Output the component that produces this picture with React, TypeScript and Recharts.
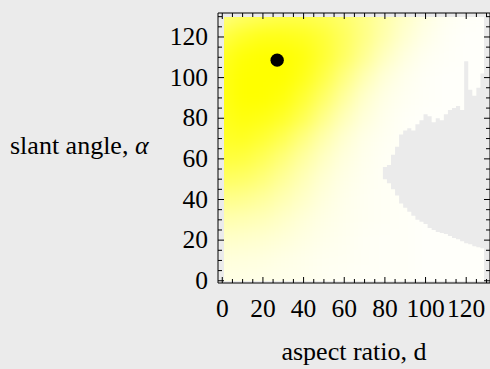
import React from "react";
import { ComposedChart, Scatter, Area, XAxis, YAxis } from "recharts";

const FONT = '"Liberation Serif", "Times New Roman", serif';
const BG = "#ebebeb";

// axis ticks
const X_MAJOR = [0, 20, 40, 60, 80, 100, 120];
const Y_MAJOR = [0, 20, 40, 60, 80, 100, 120];
const X_TICKS = [0, 5, 10, 15, 20, 25, 30, 35, 40, 45, 50, 55, 60, 65, 70, 75, 80, 85, 90, 95, 100, 105, 110, 115, 120, 125, 130];
const Y_TICKS = [0, 5, 10, 15, 20, 25, 30, 35, 40, 45, 50, 55, 60, 65, 70, 75, 80, 85, 90, 95, 100, 105, 110, 115, 120, 125, 130];

// frame and image extents (data units)
const FRAME_X = [-2.1, 131.7];
const FRAME_Y = [-1.1, 131.8];
const IMAGE_X = [0.85, 128.75];
const IMAGE_Y = [-0.1, 129.8];

// density samples, rows from top (130) to bottom (0)
const GRID_X = [0, 10, 20, 30, 40, 50, 60, 70, 80, 90, 100, 110, 120, 130];
const GRID_Y = [130, 120, 110, 100, 90, 80, 70, 60, 50, 40, 30, 20, 10, 0];
const YELLOW = [
  [0.5, 0.6, 0.66, 0.7, 0.7, 0.66, 0.58, 0.47, 0.34, 0.22, 0.12, 0.06, 0.03, 0.02],
  [0.72, 0.84, 0.9, 0.9, 0.87, 0.78, 0.64, 0.48, 0.32, 0.18, 0.09, 0.04, 0.02, 0.02],
  [0.86, 0.97, 1, 1, 0.94, 0.8, 0.62, 0.42, 0.24, 0.12, 0.05, 0.03, 0.02, 0.02],
  [0.9, 1, 1, 1, 0.9, 0.72, 0.5, 0.3, 0.15, 0.07, 0.03, 0.02, 0.02, 0.02],
  [0.9, 1, 1, 0.95, 0.8, 0.6, 0.38, 0.2, 0.1, 0.05, 0.03, 0.02, 0.02, 0.02],
  [0.88, 0.95, 0.92, 0.84, 0.68, 0.46, 0.27, 0.14, 0.07, 0.03, 0.02, 0.02, 0.02, 0.02],
  [0.84, 0.87, 0.8, 0.68, 0.5, 0.32, 0.18, 0.09, 0.05, 0.03, 0.02, 0.02, 0.02, 0.02],
  [0.76, 0.75, 0.66, 0.52, 0.37, 0.23, 0.13, 0.07, 0.04, 0.03, 0.02, 0.02, 0.02, 0.02],
  [0.62, 0.6, 0.52, 0.4, 0.28, 0.17, 0.1, 0.06, 0.04, 0.03, 0.02, 0.02, 0.02, 0.02],
  [0.46, 0.44, 0.38, 0.3, 0.21, 0.13, 0.08, 0.05, 0.04, 0.03, 0.02, 0.02, 0.02, 0.02],
  [0.32, 0.3, 0.27, 0.21, 0.15, 0.1, 0.07, 0.05, 0.04, 0.03, 0.02, 0.02, 0.02, 0.02],
  [0.21, 0.2, 0.18, 0.15, 0.11, 0.08, 0.06, 0.04, 0.03, 0.03, 0.02, 0.02, 0.02, 0.02],
  [0.14, 0.13, 0.12, 0.1, 0.08, 0.06, 0.05, 0.04, 0.03, 0.03, 0.02, 0.02, 0.02, 0.02],
  [0.1, 0.1, 0.09, 0.08, 0.07, 0.05, 0.04, 0.03, 0.03, 0.03, 0.02, 0.02, 0.02, 0.02],
];

// region without data (background shows through)
const HOLE_X = [79, 81, 83, 85, 87, 89, 91, 93, 95, 97, 99, 101, 103, 105, 107, 109, 111, 113, 115, 117, 119, 121, 123, 125, 127, 129];
const HOLE_LO = [50, 48, 45, 42, 38, 36, 34, 32, 30, 29, 28, 26, 25, 24, 23.5, 23, 22, 21, 20.5, 19.5, 18.5, 18, 17, 16.5, 16, 15];
const HOLE_HI = [56, 57, 62, 66, 72, 74, 75, 74, 77, 79, 82, 81, 78, 80, 79, 82, 84, 85, 86, 84, 108, 94, 91, 95, 102, 100];

const OPTIMUM = [{ x: 27, y: 108.6 }];

const heatCells = GRID_Y.flatMap((y, i) => GRID_X.map((x, j) => ({ x, y, v: YELLOW[i][j] })));
const holeData = HOLE_X.map((x, i) => ({ x, range: [HOLE_LO[i], HOLE_HI[i]] }));

const IMG_W = 260;
const IMG_H = 264;
const CELL_W = (10 * IMG_W) / (IMAGE_X[1] - IMAGE_X[0]) + 1;
const CELL_H = (10 * IMG_H) / (IMAGE_Y[1] - IMAGE_Y[0]) + 1;
const NO_MARGIN = { top: 0, right: 0, bottom: 0, left: 0 };

const HeatCell = (p: any) => (
  <rect
    x={p.cx - CELL_W / 2}
    y={p.cy - CELL_H / 2}
    width={CELL_W}
    height={CELL_H}
    fill={`rgb(255,255,${Math.round(255 * (1 - p.payload.v))})`}
  />
);

const tickText = { fontFamily: FONT, fontSize: 25.5, fill: "#000" };

const BottomTick = (p: any) => {
  const v = p.payload.value;
  const major = X_MAJOR.includes(v);
  return (
    <g>
      <line x1={p.x} x2={p.x} y1={p.y} y2={p.y - (major ? 6 : 4)} stroke="#000" />
      {major && (
        <text x={p.x} y={p.y + 34} textAnchor="middle" {...tickText}>
          {v}
        </text>
      )}
    </g>
  );
};

const TopTick = (p: any) => {
  const major = X_MAJOR.includes(p.payload.value);
  return <line x1={p.x} x2={p.x} y1={p.y} y2={p.y + (major ? 6 : 4)} stroke="#000" />;
};

const LeftTick = (p: any) => {
  const v = p.payload.value;
  const major = Y_MAJOR.includes(v);
  return (
    <g>
      <line x1={p.x} x2={p.x + (major ? 6 : 4)} y1={p.y} y2={p.y} stroke="#000" />
      {major && (
        <text x={p.x - 10} y={p.y + 8} textAnchor="end" {...tickText}>
          {v}
        </text>
      )}
    </g>
  );
};

const RightTick = (p: any) => {
  const major = Y_MAJOR.includes(p.payload.value);
  return <line x1={p.x} x2={p.x - (major ? 6 : 4)} y1={p.y} y2={p.y} stroke="#000" />;
};

export default function App() {
  return (
    <div style={{ position: "relative", width: 490, height: 369, background: BG, overflow: "hidden" }}>
      <style>{`html, body { margin: 0; background: ${BG}; } .heatchart .recharts-scatter { filter: url(#heatBlur); }`}</style>
      <svg width={0} height={0} style={{ position: "absolute" }}>
        <defs>
          <filter id="heatBlur" x="-20%" y="-20%" width="140%" height="140%" colorInterpolationFilters="sRGB">
            <feGaussianBlur stdDeviation={8} />
            <feComponentTransfer>
              <feFuncA type="linear" slope={40} intercept={0} />
            </feComponentTransfer>
          </filter>
        </defs>
      </svg>

      {/* density image */}
      <div className="heatchart" style={{ position: "absolute", left: 224, top: 17 }}>
        <ComposedChart width={IMG_W} height={IMG_H} margin={NO_MARGIN}>
          <XAxis type="number" dataKey="x" domain={IMAGE_X} allowDataOverflow hide />
          <YAxis type="number" dataKey="y" domain={IMAGE_Y} allowDataOverflow hide />
          <Scatter data={heatCells} shape={HeatCell} isAnimationActive={false} />
        </ComposedChart>
      </div>

      {/* no-data region */}
      <div style={{ position: "absolute", left: 224, top: 17 }}>
        <ComposedChart width={IMG_W} height={IMG_H} data={holeData} margin={NO_MARGIN}>
          <XAxis type="number" dataKey="x" domain={IMAGE_X} allowDataOverflow hide />
          <YAxis type="number" domain={IMAGE_Y} allowDataOverflow hide />
          <Area
            dataKey="range"
            type="stepAfter"
            stroke="none"
            fill={BG}
            fillOpacity={1}
            dot={false}
            activeDot={false}
            isAnimationActive={false}
          />
        </ComposedChart>
      </div>

      {/* frame, ticks, labels, optimum */}
      <div style={{ position: "absolute", left: 0, top: 0 }}>
        <ComposedChart width={492} height={369} margin={NO_MARGIN}>
          <XAxis
            xAxisId="b"
            type="number"
            dataKey="x"
            orientation="bottom"
            domain={FRAME_X}
            allowDataOverflow
            ticks={X_TICKS}
            interval={0}
            height={86}
            tickSize={0}
            tickMargin={0}
            tickLine={false}
            tick={BottomTick}
            axisLine={{ stroke: "#000" }}
            label={{
              content: (p: any) => (
                <text
                  x={p.viewBox.x + p.viewBox.width / 2}
                  y={p.viewBox.y + p.viewBox.height - 9}
                  textAnchor="middle"
                  fontFamily={FONT}
                  fontSize={26}
                  fill="#000"
                >
                  aspect ratio, d
                </text>
              ),
            }}
          />
          <XAxis
            xAxisId="t"
            type="number"
            dataKey="x"
            orientation="top"
            domain={FRAME_X}
            allowDataOverflow
            ticks={X_TICKS}
            interval={0}
            height={13}
            tickSize={0}
            tickMargin={0}
            tickLine={false}
            tick={TopTick}
            axisLine={{ stroke: "#000" }}
          />
          <YAxis
            yAxisId="l"
            type="number"
            dataKey="y"
            orientation="left"
            domain={FRAME_Y}
            allowDataOverflow
            ticks={Y_TICKS}
            interval={0}
            width={218}
            tickSize={0}
            tickMargin={0}
            tickLine={false}
            tick={LeftTick}
            axisLine={{ stroke: "#000" }}
            label={{
              content: (p: any) => (
                <text x={p.viewBox.x + 10} y={154} textAnchor="start" fontFamily={FONT} fontSize={26} fill="#000">
                  slant angle, <tspan fontStyle="italic">α</tspan>
                </text>
              ),
            }}
          />
          <YAxis
            yAxisId="r"
            type="number"
            dataKey="y"
            orientation="right"
            domain={FRAME_Y}
            allowDataOverflow
            ticks={Y_TICKS}
            interval={0}
            width={2}
            tickSize={0}
            tickMargin={0}
            tickLine={false}
            tick={RightTick}
            axisLine={{ stroke: "#000" }}
          />
          <Scatter
            xAxisId="b"
            yAxisId="l"
            data={OPTIMUM}
            fill="#000"
            shape={(p: any) => <circle cx={p.cx} cy={p.cy} r={6.7} fill="#000" />}
            isAnimationActive={false}
          />
        </ComposedChart>
      </div>
    </div>
  );
}
